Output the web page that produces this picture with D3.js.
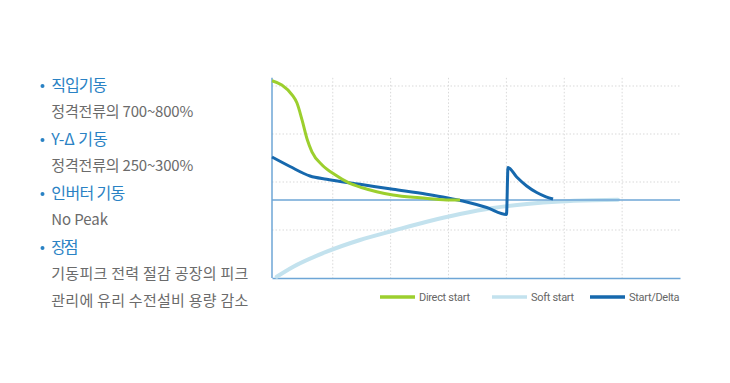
<!DOCTYPE html>
<html><head><meta charset="utf-8">
<script src="https://cdn.jsdelivr.net/npm/d3@7/dist/d3.min.js"></script>
<style>
html,body{margin:0;padding:0;background:#fff;}
svg{display:block;}
</style></head>
<body>
<svg id="c" width="730" height="383"></svg>
<script>
// ---- data ----
const directX  = [-0.05, 0.12, 0.30, 0.38, 0.47, 0.56, 0.64, 0.82, 1.04, 1.28, 1.51, 2.04, 2.51, 2.97, 3.20];
const directY  = [4.11, 4.02, 3.81, 3.65, 3.29, 2.88, 2.63, 2.35, 2.15, 1.98, 1.88, 1.73, 1.67, 1.625, 1.625];
const softX    = [0.031, 0.318, 0.895, 1.47, 2.046, 2.623, 3.199, 3.769, 4.357, 4.927, 5.497, 5.929];
const softY    = [0.027, 0.235, 0.548, 0.792, 0.985, 1.173, 1.333, 1.458, 1.542, 1.594, 1.619, 1.629];
const deltaX   = [-0.05, 0.261, 0.607, 0.895, 1.47, 2.041, 2.623, 2.969, 3.314, 3.66, 4.002, 4.028, 4.178, 4.351, 4.524, 4.685, 4.806];
const deltaY   = [2.52, 2.323, 2.125, 2.056, 1.952, 1.848, 1.744, 1.671, 1.583, 1.469, 1.323, 2.302, 2.104, 1.917, 1.781, 1.692, 1.646];
const ratedLevel = 1.625;
const xGrid = [1, 2, 3, 4, 5, 6];
const yGrid = [1, 2, 3, 4];
const seriesNames = ["Direct start", "Soft start", "Start/Delta"];
const seriesColors = ["#9ccf2e", "#c3e2ee", "#1668ad"];
const noteHeads = ["직입기동", "Y-Δ 기동", "인버터 기동", "장점"];
const noteLines = [["정격전류의 700~800%"], ["정격전류의 250~300%"], ["No Peak"], ["기동피크 전력 절감 공장의 피크", "관리에 유리 수전설비 용량 감소"]];

const headWidths = [56, 56.5, 74, 27.3];
const lineWidths = [[142], [142], [56.7], [197, 197]];

// ---- chart ----
const svg = d3.select("#c");
const x = d3.scaleLinear().domain([-0.05, 7]).range([272, 680]);
const y = d3.scaleLinear().domain([0, 4]).range([278, 86]);
const axisColor = "#6ea6d6";

const g = svg.append("g");
// grid
g.selectAll(".vg").data(xGrid).join("line")
  .attr("x1", d => x(d)).attr("x2", d => x(d))
  .attr("y1", y(4.17)).attr("y2", y(0))
  .attr("stroke", "#d9d9d9").attr("stroke-width", 1).attr("stroke-dasharray", "1.5,2");
g.selectAll(".hg").data(yGrid).join("line")
  .attr("x1", x(-0.05)).attr("x2", x(7))
  .attr("y1", d => y(d)).attr("y2", d => y(d))
  .attr("stroke", "#d9d9d9").attr("stroke-width", 1).attr("stroke-dasharray", "1.5,2");

// axes
const yAxis = d3.axisLeft(y).tickValues([]).tickSize(0);
g.append("g").attr("transform", `translate(${x(-0.05)},0)`).call(yAxis)
  .call(s => s.select(".domain").attr("d", `M0,${y(0)}V${y(4.17)}`).attr("stroke", axisColor).attr("stroke-width", 1.5));
const xAxis = d3.axisBottom(x).tickValues([]).tickSize(0);
g.append("g").attr("transform", `translate(0,${y(0)})`).call(xAxis)
  .call(s => s.select(".domain").attr("stroke", axisColor).attr("stroke-width", 1.5));

const line = d3.line().x(d => x(d[0])).y(d => y(d[1])).curve(d3.curveMonotoneX);
const zip = (a, b) => a.map((v, i) => [v, b[i]]);

// soft start
g.append("path").attr("d", line(zip(softX, softY)))
  .attr("fill", "none").attr("stroke", seriesColors[1]).attr("stroke-width", 4).attr("stroke-linecap", "round");
// rated line
g.append("line").attr("x1", x(-0.05)).attr("x2", x(7))
  .attr("y1", y(ratedLevel)).attr("y2", y(ratedLevel))
  .attr("stroke", axisColor).attr("stroke-width", 1.5);
// star/delta
g.append("path").attr("d", line(zip(deltaX, deltaY)))
  .attr("fill", "none").attr("stroke", seriesColors[2]).attr("stroke-width", 3).attr("stroke-linejoin", "miter");
// direct
g.append("path").attr("d", line(zip(directX, directY)))
  .attr("fill", "none").attr("stroke", seriesColors[0]).attr("stroke-width", 3);

// legend
const legX = [380, 492, 590];
const leg = svg.append("g");
seriesNames.forEach((n, i) => {
  leg.append("line").attr("x1", legX[i]).attr("x2", legX[i] + 35)
    .attr("y1", 297).attr("y2", 297)
    .attr("stroke", seriesColors[i]).attr("stroke-width", 3.5);
  leg.append("text").attr("x", legX[i] + 39).attr("y", 301)
    .attr("font-family", "Roboto, sans-serif").attr("font-size", 11)
    .attr("letter-spacing", -0.3)
    .attr("fill", "#666").text(n);
});

// notes
const nt = svg.append("g");
const fam = "'Noto Sans CJK KR', 'Noto Sans', sans-serif";
let yy = 85;
noteHeads.forEach((h, i) => {
  nt.append("circle").attr("cx", 42.5).attr("cy", yy + 1).attr("r", 2).attr("fill", "#2a82c4");
  nt.append("text").attr("x", 51.3).attr("y", yy).attr("dy", "0.35em")
    .attr("font-family", fam).attr("font-size", 16)
    .attr("textLength", headWidths[i]).attr("lengthAdjust", "spacing")
    .attr("fill", "#2a82c4").text(h);
  yy += 27;
  noteLines[i].forEach((l, j) => {
    nt.append("text").attr("x", 51.3).attr("y", yy).attr("dy", "0.35em")
      .attr("font-family", fam).attr("font-size", 15)
      .attr("textLength", lineWidths[i][j]).attr("lengthAdjust", "spacing")
      .attr("fill", "#6b6b6b").text(l);
    yy += 27;
  });
});
</script>
</body></html>
